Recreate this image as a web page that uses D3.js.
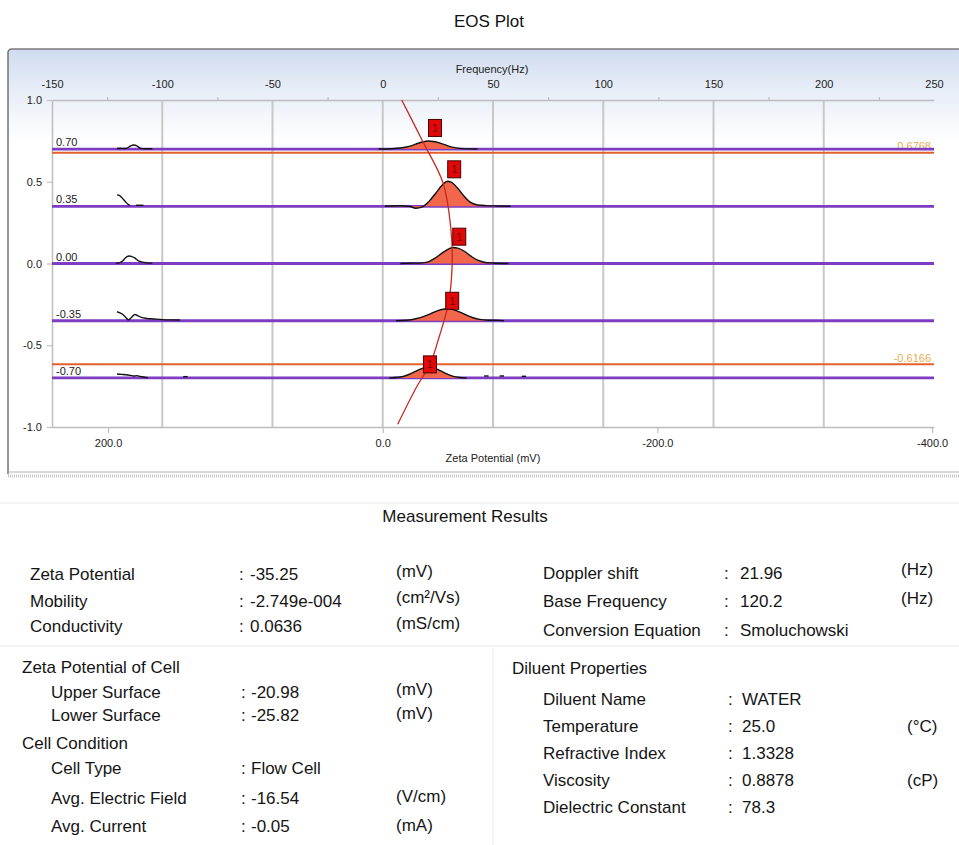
<!DOCTYPE html>
<html><head><meta charset="utf-8">
<script src="https://cdn.jsdelivr.net/npm/d3@7"></script>
<style>
html,body{margin:0;padding:0;background:#fff;}
svg{display:block;font-family:'Liberation Sans',Arial,sans-serif;}
</style></head><body>
<svg id="c" width="959" height="845"></svg>
<script>
// ---------- chart data ----------
const freqExtent=[-150,250];
const freqTicks=[-150,-100,-50,0,50,100,150,200,250];
const freqMinorTicks=[-125,-75,-25,25,75,125,175,225];
const gridFreqs=[-100,-50,0,50,100,150,200];
const zetaExtent=[240.8,-401.4];
const zetaTicks=[200,0,-200,-400];
const yExtent=[-1,1];
const yTicks=[1.0,0.5,0.0,-0.5,-1.0];
const rowLevels=[0.70,0.35,0.00,-0.35,-0.70];
const rowLabels=["0.70","0.35","0.00","-0.35","-0.70"];
const refLevels=[0.6768,-0.6166];
const refLabels=["0.6768","-0.6166"];

// main peaks: frequency (Hz) and amplitude above row baseline
const peakFreqs=[
 [-2,4,8,12,15,18,20.5,23,26,29,32,35,39,43],
 [1,8,12,15,18,21,24,27,29.3,31,34,37,40,43,47,52,58],
 [8,14,18,21,24,27,30,32,34,37,40,43,46,50,57],
 [6,11,15,19,22,25,28,29.7,32,35,38,41,44,48,53,55],
 [3,7,10,13,16,18.5,20.7,23,26,29,32,35,38]
];
const peakAmps=[
 [0,0.002,0.006,0.016,0.03,0.043,0.049,0.046,0.036,0.022,0.01,0.004,0.001,0],
 [0,0.003,0,-0.012,-0.004,0.03,0.08,0.13,0.153,0.148,0.11,0.06,0.022,0.008,0.004,0.002,0],
 [0,0.002,0.004,0.012,0.035,0.065,0.09,0.098,0.094,0.075,0.045,0.02,0.008,0.003,0],
 [0,0.003,0.012,0.028,0.045,0.062,0.072,0.073,0.068,0.052,0.034,0.018,0.008,0.003,0.002,0],
 [0,0.004,0.012,0.028,0.048,0.062,0.067,0.062,0.045,0.025,0.01,0.003,0]
];
// small noise traces: row index, frequencies, amplitudes
const noiseRows=[0,1,1,2,3,4,4,4,4,4];
const noiseFreqs=[
 [-120.5,-119,-117.5,-116,-114.5,-113,-111.5,-110,-108,-106,-104.5],
 [-120.5,-119.5,-118.5,-117.5,-116.5,-115.5,-114.6],
 [-112,-108.5],
 [-121,-119.5,-118,-117,-116,-115,-114,-112.5,-111,-109,-107,-104.5],
 [-120.5,-118.2,-116.5,-115.4,-114,-112.4,-111,-109.5,-107,-104,-100,-96,-92],
 [-120.5,-118.5,-116.5,-114.5,-113,-111.5,-110,-108,-106.5],
 [-90.5,-88.5],
 [46,48],
 [53,55],
 [63,65]
];
const noiseAmps=[
 [0.003,0.005,0.003,0.006,0.018,0.025,0.02,0.006,0.002,0.002,0.002],
 [0.07,0.066,0.055,0.04,0.025,0.012,0.006],
 [0.006,0.006],
 [0.002,0.004,0.015,0.03,0.042,0.046,0.044,0.034,0.018,0.008,0.004,0.002],
 [0.055,0.041,0.02,0.005,0.02,0.038,0.03,0.02,0.014,0.011,0.007,0.005,0.004],
 [0.024,0.022,0.02,0.016,0.012,0.014,0.01,0.004,0.002],
 [0.008,0.008],
 [0.012,0.012],
 [0.012,0.012],
 [0.01,0.01]
];
// red velocity profile: level (y) and frequency (Hz)
const profileLevels=[1.0,0.745,0.491,0.225,0.0,-0.243,-0.448,-0.617,-0.754,-0.983];
const profileFreqs=[8.6,18.2,27.4,30.8,31.5,29.8,25.6,21.4,15.4,6.8];
// peak markers
const markerFreqs=[23.7,32.4,34.7,31.5,21.4];
const markerLevels=[0.829,0.576,0.164,-0.228,-0.617];
const markerLabels=["1","1","1","1","1"];

// ---------- results table data ----------
const measLabels=["Zeta Potential","Mobility","Conductivity"];
const measValues=["-35.25","-2.749e-004","0.0636"];
const measUnits=["(mV)","(cm²/Vs)","(mS/cm)"];
const dopLabels=["Doppler shift","Base Frequency","Conversion Equation"];
const dopValues=["21.96","120.2","Smoluchowski"];
const dopUnits=["(Hz)","(Hz)",""];
const cellLabels=["Upper Surface","Lower Surface"];
const cellValues=["-20.98","-25.82"];
const cellUnits=["(mV)","(mV)"];
const condLabels=["Cell Type","Avg. Electric Field","Avg. Current"];
const condValues=["Flow Cell","-16.54","-0.05"];
const condUnits=["","(V/cm)","(mA)"];
const dilLabels=["Diluent Name","Temperature","Refractive Index","Viscosity","Dielectric Constant"];
const dilValues=["WATER","25.0","1.3328","0.8878","78.3"];
const dilUnits=["","(°C)","","(cP)",""];

// ---------- drawing ----------
const svg=d3.select("#c");
const L=52,R=934,T=100,B=427;
const x=d3.scaleLinear().domain(freqExtent).range([L,R]);
const z=d3.scaleLinear().domain(zetaExtent).range([L,R]);
const y=d3.scaleLinear().domain(yExtent).range([B,T]);

const defs=svg.append("defs");
const grad=defs.append("linearGradient").attr("id","bg").attr("x1",0).attr("y1",0).attr("x2",0).attr("y2",1);
grad.append("stop").attr("offset","0%").attr("stop-color","#cfdbee");
grad.append("stop").attr("offset","8%").attr("stop-color","#e4ebf6");
grad.append("stop").attr("offset","22%").attr("stop-color","#ffffff");
grad.append("stop").attr("offset","100%").attr("stop-color","#ffffff");

// title
svg.append("text").attr("x",489).attr("y",27).attr("text-anchor","middle").attr("font-size",17).attr("fill","#111").text("EOS Plot");

// panel
svg.append("path").attr("d","M8,474 L8,53 Q8,49 12,49 L962,49 L962,474 Z").attr("fill","url(#bg)").attr("stroke","none");
svg.append("path").attr("d","M8,474 L8,53 Q8,49 12,49 L962,49").attr("fill","none").attr("stroke","#7a7a7a").attr("stroke-width",1.6);
svg.append("line").attr("x1",8).attr("x2",959).attr("y1",472).attr("y2",472).attr("stroke","#b0b0b0").attr("stroke-width",1);
svg.append("line").attr("x1",8).attr("x2",959).attr("y1",476).attr("y2",476).attr("stroke","#c4c4c4").attr("stroke-width",3).attr("stroke-dasharray","1,1");

// grid
const g=svg.append("g");
g.selectAll("line.grid").data(gridFreqs).join("line").attr("class","grid")
 .attr("x1",d=>x(d)).attr("x2",d=>x(d)).attr("y1",y(1)).attr("y2",y(-1))
 .attr("stroke","#c8c8c8").attr("stroke-width",2);

// axes
const axisColor="#bdbdbd";
const topAx=g.append("g").attr("transform",`translate(0,${y(1)})`)
 .call(d3.axisTop(x).tickValues(freqTicks).tickSize(0).tickSizeOuter(0).tickPadding(12).tickFormat(d=>String(d)));
const minorAx=g.append("g").attr("transform",`translate(0,${y(1)})`)
 .call(d3.axisTop(x).tickValues(freqMinorTicks).tickSize(3).tickSizeOuter(0).tickFormat(""));
minorAx.select(".domain").remove();
const botAx=g.append("g").attr("transform",`translate(0,${y(-1)})`)
 .call(d3.axisBottom(z).tickValues(zetaTicks).tickSize(6).tickSizeOuter(0).tickPadding(6).tickFormat(d=>d.toFixed(1)));
const leftAx=g.append("g").attr("transform",`translate(${L},0)`)
 .call(d3.axisLeft(y).tickValues(yTicks).tickSize(5).tickSizeOuter(0).tickPadding(5).tickFormat(d=>d.toFixed(1)));
[topAx,minorAx,botAx,leftAx].forEach(a=>{
 a.selectAll("path.domain").attr("stroke",axisColor).attr("stroke-width",1.5);
 a.selectAll(".tick line").attr("stroke",axisColor).attr("stroke-width",1.2);
 a.selectAll("text").attr("font-size",11).attr("fill","#222").attr("font-family","'Liberation Sans',Arial,sans-serif");
});
g.append("text").attr("x",492).attr("y",73).attr("text-anchor","middle").attr("font-size",11).attr("fill","#222").text("Frequency(Hz)");
g.append("text").attr("x",493).attr("y",462).attr("text-anchor","middle").attr("font-size",11).attr("fill","#222").text("Zeta Potential (mV)");

// reference (orange) lines
g.selectAll("line.ref").data(refLevels).join("line").attr("class","ref")
 .attr("x1",L).attr("x2",R).attr("y1",d=>y(d)).attr("y2",d=>y(d))
 .attr("stroke","#e3602e").attr("stroke-width",2);
g.selectAll("text.ref").data(refLevels).join("text").attr("class","ref")
 .attr("x",R-3).attr("y",d=>y(d)-2.5).attr("text-anchor","end").attr("font-size",11)
 .attr("fill","#e6ad4e").text((d,i)=>refLabels[i]);

// row baselines (purple)
g.selectAll("line.row").data(rowLevels).join("line").attr("class","row")
 .attr("x1",L).attr("x2",R).attr("y1",d=>y(d)).attr("y2",d=>y(d))
 .attr("stroke","#7d3cc2").attr("stroke-width",2.8);
g.selectAll("text.row").data(rowLevels).join("text").attr("class","row")
 .attr("x",L+4).attr("y",d=>y(d)-3).attr("font-size",11).attr("fill","#222")
 .text((d,i)=>rowLabels[i]);

// peaks
rowLevels.forEach((lev,i)=>{
 const pts=peakFreqs[i].map((f,j)=>[f,peakAmps[i][j]]);
 const area=d3.area().x(d=>x(d[0])).y0(y(lev)).y1(d=>y(lev+d[1])).curve(d3.curveMonotoneX);
 const line=d3.line().x(d=>x(d[0])).y(d=>y(lev+d[1])).curve(d3.curveMonotoneX);
 g.append("path").attr("d",area(pts)).attr("fill","#f2664b").attr("stroke","none");
 g.append("path").attr("d",line(pts)).attr("fill","none").attr("stroke","#111").attr("stroke-width",1.4);
});
// noise traces
noiseFreqs.forEach((fs,k)=>{
 const lev=rowLevels[noiseRows[k]];
 const pts=fs.map((f,j)=>[f,noiseAmps[k][j]]);
 const line=d3.line().x(d=>x(d[0])).y(d=>y(lev+d[1])).curve(d3.curveMonotoneX);
 g.append("path").attr("d",line(pts)).attr("fill","none").attr("stroke","#111").attr("stroke-width",1.4);
});

// profile curve
const prof=profileLevels.map((l,i)=>[profileFreqs[i],l]);
g.append("path").attr("d",d3.line().x(d=>x(d[0])).y(d=>y(d[1])).curve(d3.curveCatmullRom)(prof))
 .attr("fill","none").attr("stroke","#c42a22").attr("stroke-width",1.3);

// markers
const mk=g.selectAll("g.mk").data(markerFreqs).join("g").attr("class","mk")
 .attr("transform",(d,i)=>`translate(${x(d)},${y(markerLevels[i])})`);
mk.append("rect").attr("x",-6.5).attr("y",-8.5).attr("width",13).attr("height",17)
 .attr("fill","#e00808").attr("stroke","#4a0000").attr("stroke-width",1);
mk.append("text").attr("text-anchor","middle").attr("y",4).attr("font-size",11).attr("fill","#7a0000")
 .text((d,i)=>markerLabels[i]);

// ---------- results table ----------
const t=svg.append("g").attr("fill","#151515").attr("font-size",17);
const sep="#f0f0f0";
svg.append("line").attr("x1",0).attr("x2",959).attr("y1",503).attr("y2",503).attr("stroke","#f4f4f4").attr("stroke-width",2);
svg.append("line").attr("x1",0).attr("x2",959).attr("y1",646).attr("y2",646).attr("stroke",sep).attr("stroke-width",1.5);
svg.append("line").attr("x1",493).attr("x2",493).attr("y1",648).attr("y2",845).attr("stroke",sep).attr("stroke-width",1.5);

t.append("text").attr("x",465).attr("y",522).attr("text-anchor","middle").text("Measurement Results");

function block(labels,values,units,opt){
 labels.forEach((lab,i)=>{
  const yb=opt.ys[i];
  t.append("text").attr("x",opt.lx).attr("y",yb).text(lab);
  t.append("text").attr("x",opt.cx).attr("y",yb).text(":");
  t.append("text").attr("x",opt.vx).attr("y",yb).text(values[i]);
  if(units[i]) t.append("text").attr("x",opt.ux).attr("y",(opt.uys||opt.ys)[i]).text(units[i]);
 });
}
block(measLabels,measValues,measUnits,{lx:30,cx:239,vx:250,ux:396,ys:[580,607,632],uys:[577,603,629]});
block(dopLabels,dopValues,dopUnits,{lx:543,cx:724,vx:740,ux:901,ys:[579,607,636],uys:[575,604,0]});
t.append("text").attr("x",22).attr("y",673).text("Zeta Potential of Cell");
block(cellLabels,cellValues,cellUnits,{lx:51,cx:241,vx:251,ux:396,ys:[698,721],uys:[695,719]});
t.append("text").attr("x",22).attr("y",749).text("Cell Condition");
block(condLabels,condValues,condUnits,{lx:51,cx:241,vx:251,ux:396,ys:[774,804,832],uys:[0,802,831]});
t.append("text").attr("x",512).attr("y",674).text("Diluent Properties");
block(dilLabels,dilValues,dilUnits,{lx:543,cx:728,vx:742,ux:907,ys:[705,732,759,786,813]});
</script>
</body></html>
